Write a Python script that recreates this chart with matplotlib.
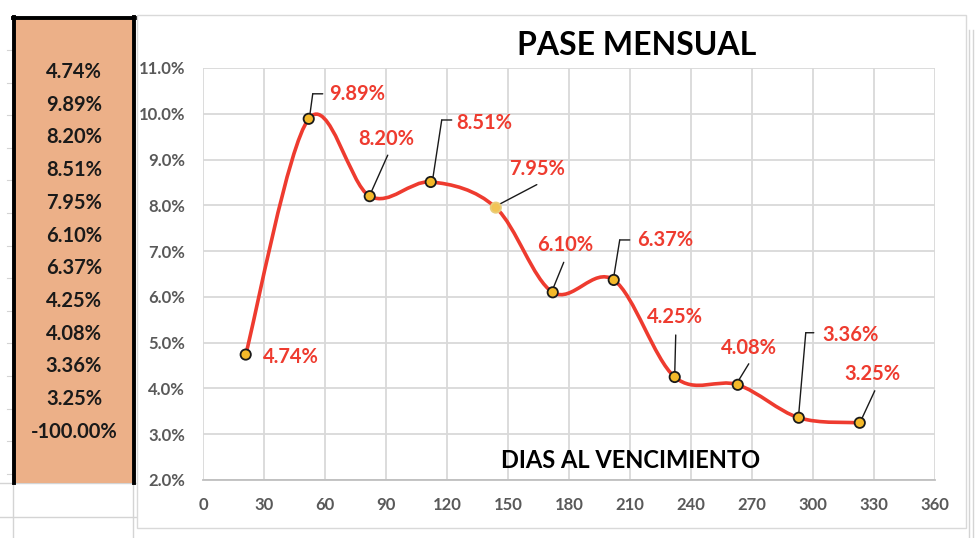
import numpy as np
import matplotlib.pyplot as plt
from matplotlib.path import Path
from matplotlib.patches import PathPatch, Rectangle
from matplotlib.lines import Line2D
from matplotlib.transforms import offset_copy

# datos
dias = [21, 52, 82, 112, 144, 172, 202, 232, 263, 293, 323]
pase = [4.74, 9.89, 8.20, 8.51, 7.95, 6.10, 6.37, 4.25, 4.08, 3.36, 3.25]
tabla = ["4.74%", "9.89%", "8.20%", "8.51%", "7.95%", "6.10%", "6.37%",
         "4.25%", "4.08%", "3.36%", "3.25%", "-100.00%"]
x_ticks = list(range(0, 361, 30))
y_ticks = list(range(2, 12))
titulo = "PASE MENSUAL"
eje_x = "DIAS AL VENCIMIENTO"

plt.rcParams['font.family'] = ['Lato', 'DejaVu Sans']

W, H = 980, 538
fig = plt.figure(figsize=(W / 100, H / 100), dpi=100)


def fx(px):
    return px / W


def fy(py):
    return 1 - py / H


def hline(x0, x1, y, **kw):
    fig.add_artist(Line2D([fx(x0), fx(x1)], [fy(y), fy(y)], transform=fig.transFigure, zorder=-1, **kw))


def vline(x, y0, y1, **kw):
    fig.add_artist(Line2D([fx(x), fx(x)], [fy(y0), fy(y1)], transform=fig.transFigure, zorder=-1, **kw))


# planilla de fondo
grid_c = '#D4D4D4'
for r in range(14):
    hline(7, 13, 50 + r * 32.6, color=grid_c, lw=0.8)
hline(0, 137, 483, color=grid_c, lw=1)
hline(0, 137, 517, color=grid_c, lw=1)
vline(13, 483, 538, color=grid_c, lw=1)
vline(133, 483, 538, color=grid_c, lw=1)
vline(969, 30, 538, color=grid_c, lw=1)
vline(973, 30, 538, color=grid_c, lw=1)

# celda naranja con la tabla
fig.add_artist(Rectangle((fx(14), fy(483)), 120 / W, (483 - 17) / H, zorder=-1,
                         transform=fig.transFigure, facecolor='#ECB088', edgecolor='none'))
vline(14, 17, 483, color='black', lw=2.8)
vline(134, 17, 483, color='black', lw=2.8)
hline(12.5, 135.5, 18, color='black', lw=2.8)
for i, t in enumerate(tabla):
    fig.text(fx(74), fy(72 + i * 32.7), t, ha='center', va='center',
             fontsize=14.5, fontweight='bold', color='#1A1A1A')

# area del grafico
fig.add_artist(Rectangle((fx(137), fy(528)), (966 - 137) / W, (528 - 15) / H, zorder=-1,
                         transform=fig.transFigure, facecolor='white', edgecolor='#D9D9D9', lw=1))

ax = fig.add_axes([fx(203), fy(480), (935 - 203) / W, (480 - 68) / H])
ax.set_facecolor('none')
ax.set_xlim(0, 360)
ax.set_ylim(2, 11)
ax.set_xticks(x_ticks)
ax.set_yticks(y_ticks)
ax.set_yticklabels([f"{v:.1f}%" for v in y_ticks])
ax.grid(True, color='#D9D9D9', lw=1.3)
ax.set_axisbelow(True)
for s in ['top', 'right', 'left']:
    ax.spines[s].set_visible(False)
ax.spines['bottom'].set_color('#BFBFBF')
ax.spines['bottom'].set_linewidth(1.3)
ax.tick_params(length=0, labelcolor='#595959', labelsize=12)
ax.tick_params(axis='y', pad=13)
ax.tick_params(axis='x', pad=12)
for lab in ax.get_xticklabels() + ax.get_yticklabels():
    lab.set_fontweight('bold')


# curva suavizada estilo Excel (Bezier)
def excel_smooth(xs, ys):
    pts = np.column_stack([xs, ys]).astype(float)
    ext = np.vstack([pts[0], pts, pts[-1]])
    verts = [pts[0]]
    codes = [Path.MOVETO]
    for i in range(len(pts) - 1):
        p0, p1, p2, p3 = ext[i], ext[i + 1], ext[i + 2], ext[i + 3]
        verts += [p1 + (p2 - p0) / 6, p2 - (p3 - p1) / 6, p2]
        codes += [Path.CURVE4] * 3
    return Path(verts, codes)


ax.add_patch(PathPatch(excel_smooth(dias, pase), facecolor='none',
                       edgecolor='#EE3B2F', lw=2.6, zorder=3, capstyle='round'))

face = ['#F4B92A'] * len(dias)
edge = ['#1A1A1A'] * len(dias)
face[4] = '#F2C456'
edge[4] = '#E9CD7A'
ax.scatter(dias, pase, s=55, c=face, edgecolors=edge, linewidths=1.3, zorder=5)

# lineas guia (offset en pixeles desde el marcador)
leaders = [
    [],
    [(1, 3), (4, 25), (14, 25)],
    [(1, 3), (18, 41)],
    [(2, 3), (11, 62), (21, 62)],
    [(1, 2), (41, 23)],
    [(0, 3), (11, 30)],
    [(0, 3), (6, 40), (16, 40)],
    [(0, 3), (1, 42)],
    [(0, 3), (11, 21)],
    [(0, 4), (7, 85), (15, 85)],
    [(2, 4), (15, 32)],
]
label_pos = [(17, -2, 'left'), (20, 25, 'left'), (17, 57, 'center'), (26, 59, 'left'),
             (41, 39, 'center'), (12, 47, 'center'), (23, 40, 'left'), (0, 60, 'center'),
             (11, 37, 'center'), (24, 83, 'left'), (13, 49, 'center')]

for x, y, v, lead, (dx, dy, ha) in zip(dias, pase, pase, leaders, label_pos):
    for a, b in zip(lead[:-1], lead[1:]):
        tr = offset_copy(ax.transData, fig=fig, x=a[0], y=a[1], units='dots')
        ax.annotate('', xy=(x, y), xycoords=tr, xytext=(b[0] - a[0], b[1] - a[1]),
                    textcoords='offset pixels', annotation_clip=False,
                    arrowprops=dict(arrowstyle='-', color='#1A1A1A', lw=1,
                                    shrinkA=0, shrinkB=0), zorder=4)
    ax.annotate(f"{v:.2f}%", xy=(x, y), xytext=(dx, dy), textcoords='offset pixels',
                ha=ha, va='center', fontsize=14.5, fontweight='bold', color='#EE3B2F',
                annotation_clip=False, zorder=6)

fig.text(fx(637), fy(46), titulo, ha='center', va='center', fontsize=23,
         fontweight='bold', color='black')
fig.text(fx(631), fy(461), eje_x, ha='center', va='center', fontsize=17,
         fontweight='bold', color='black')

fig.savefig('out.png', dpi=100)
